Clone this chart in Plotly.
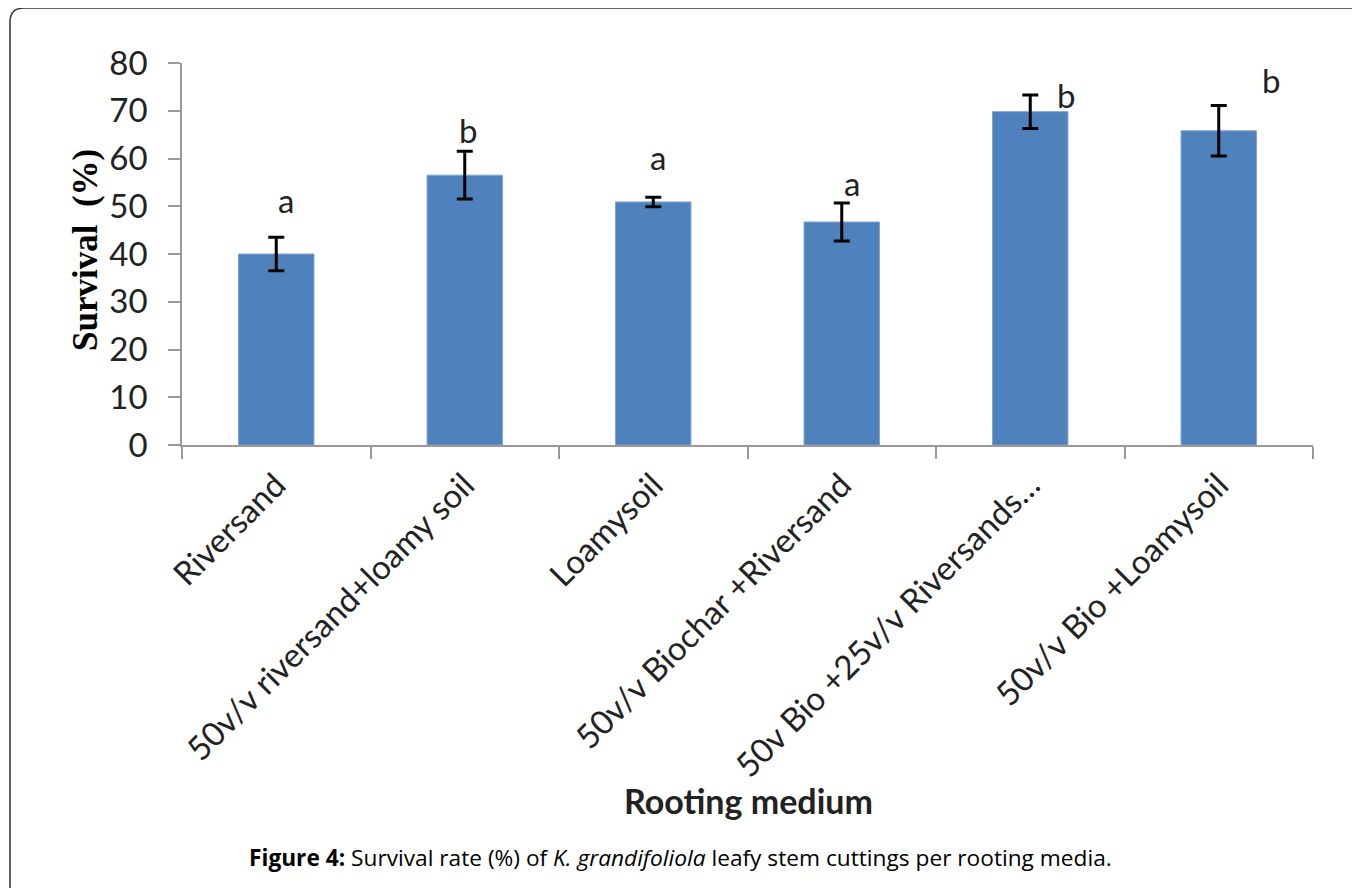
import plotly.graph_objects as go

categories = ["Riversand", "50v/v riversand+loamy soil", "Loamysoil",
              "50v/v Biochar +Riversand", "50v Bio +25v/v Riversands…",
              "50v/v Bio +Loamysoil"]
survival = [40.0, 56.5, 50.9, 46.7, 69.8, 65.8]
errors = [3.5, 5.0, 1.0, 4.0, 3.5, 5.3]
letters = ["a", "b", "a", "a", "b", "b"]
letter_y = [51.3, 66.0, 60.3, 54.9, 73.3, 76.4]
letter_shift = [10, 3, 5, 10, 36, 52]

OFF = 8  # page body margin
L, R, T, B = 182 - OFF, 1313 - OFF, 63 - OFF, 445 - OFF
W, H = 1360 - OFF, 888 - OFF


def px(x):
    return (x - OFF - L) / (R - L)


def py(y):
    return (B - (y - OFF)) / (B - T)


fig = go.Figure()
fig.add_trace(go.Bar(
    x=categories, y=survival, width=0.4,
    marker=dict(color="#4F81BD", line=dict(color="#7FA3D0", width=1)),
    error_y=dict(type="data", array=errors, visible=True, color="black",
                 thickness=3, width=8),
))

for c, t, y, s in zip(categories, letters, letter_y, letter_shift):
    fig.add_annotation(x=c, y=y, text=t, showarrow=False, xshift=s,
                       xanchor="center", yanchor="middle",
                       font=dict(family="Lato", size=33, color="#222"))

fig.add_annotation(xref="paper", yref="paper", x=px(85), y=py(250), text="<b>Survival  (%)</b>",
                   textangle=-90, showarrow=False, xanchor="center", yanchor="middle",
                   font=dict(family="Liberation Serif", size=35, color="black"))
fig.add_annotation(xref="paper", yref="paper", x=px(748), y=py(800), text="<b>Rooting medium</b>",
                   showarrow=False, xanchor="center", yanchor="middle",
                   font=dict(family="Lato", size=34, color="#222"))
fig.add_annotation(xref="paper", yref="paper", x=px(680), y=py(857),
                   text="<b>Figure 4:</b> Survival rate (%) of <i>K. grandifoliola</i> leafy stem cuttings per rooting media.",
                   showarrow=False, xanchor="center", yanchor="middle",
                   font=dict(family="Open Sans", size=22.7, color="black"))

path = (f"M {px(10)},{py(900)} L {px(10)},{py(22)} Q {px(10)},{py(8)} {px(24)},{py(8)} "
        f"L {px(1380)},{py(8)}")
fig.add_shape(type="path", xref="paper", yref="paper", path=path,
              line=dict(color="#333", width=1.5))

fig.update_layout(
    width=W, height=H, margin=dict(l=L, r=W - R, t=T, b=H - B),
    plot_bgcolor="white", paper_bgcolor="white", showlegend=False,
    bargap=0.6,
    xaxis=dict(showline=True, linecolor="#999", linewidth=1.5, ticks="outside",
               tickson="boundaries", ticklen=12, tickcolor="#999", tickwidth=1.5,
               tickangle=-45, tickfont=dict(family="Lato", size=33, color="#222"),
               ticklabelstandoff=6, showgrid=False),
    yaxis=dict(range=[0, 80], dtick=10, showline=True, linecolor="#999", linewidth=1.5,
               ticks="outside", ticklen=12, tickcolor="#999", tickwidth=1.5,
               tickfont=dict(family="Lato", size=33, color="#222"), showgrid=False,
               ticklabelstandoff=14, zeroline=False),
)

fig.write_html("out.html")
